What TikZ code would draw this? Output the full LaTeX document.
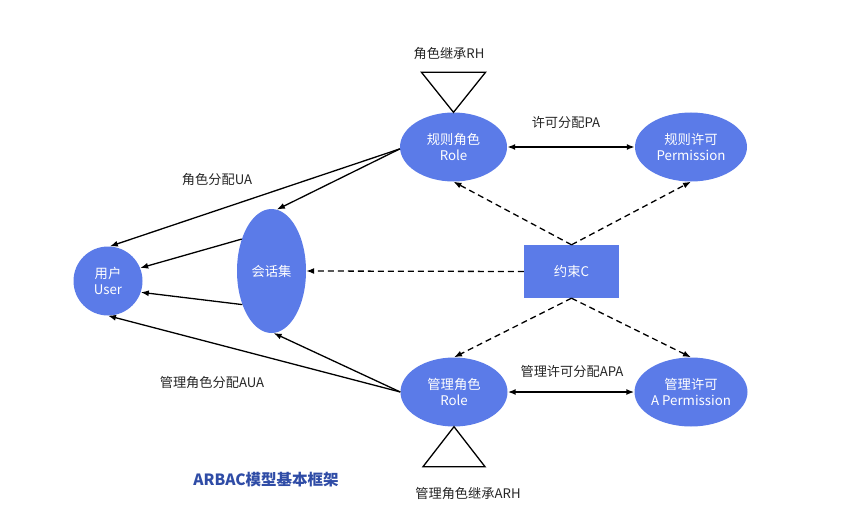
\documentclass[tikz,border=0pt]{standalone}
\usepackage{fontspec}
\setmainfont{Noto Sans CJK SC}
\usepackage{tikz}
\usetikzlibrary{shapes.geometric,arrows.meta}
\definecolor{nodeblue}{HTML}{5B7BE8}
\definecolor{titleblue}{HTML}{2F4CA6}

\begin{document}
\begin{tikzpicture}[x=1pt,y=-1pt,
	>={Latex[length=8pt,width=6pt]},
	entity/.style={ellipse,fill=nodeblue,text=white,inner sep=0pt,align=center,font=\fontsize{13.3}{16}\selectfont},
	rule/.style={rectangle,fill=nodeblue,text=white,minimum width=95pt,minimum height=53pt,font=\fontsize{13.3}{16}\selectfont},
	lbl/.style={text=black!85,font=\fontsize{13.2}{15}\selectfont},
	assign/.style={->,line width=1.3pt},
	limit/.style={->,line width=1.3pt,dash pattern=on 6pt off 4pt},
	grant/.style={<->,line width=1.7pt}]
	\useasboundingbox (0,0) rectangle (867,532);
	\node[entity,minimum width=107pt,minimum height=69pt] (role) at (453.5,147) {规则角色\\Role};
	\node[entity,minimum width=112pt,minimum height=69pt] (perm) at (691,147) {规则许可\\Permission};
	\node[entity,minimum width=69pt,minimum height=69pt] (user) at (108,281) {用户\\User};
	\node[entity,minimum width=69pt,minimum height=124pt] (sess) at (271.5,271) {会话集};
	\node[rule] (cons) at (571.5,271.5) {约束C};
	\node[entity,minimum width=107pt,minimum height=69pt] (arole) at (454,392) {管理角色\\Role};
	\node[entity,minimum width=112pt,minimum height=69pt] (aperm) at (691,392) {管理许可\\A Permission};
	% labels
	\node[lbl] (rh) at (449,54) {角色继承RH};
	\node[lbl] (pa) at (566,123) {许可分配PA};
	\node[lbl] (ua) at (217,180) {角色分配UA};
	\node[lbl] (aua) at (212,383) {管理角色分配AUA};
	\node[lbl] (apa) at (572,371) {管理许可分配APA};
	\node[lbl] (arh) at (468,494) {管理角色继承ARH};
	\node[text=titleblue,font=\fontsize{15.5}{18}\selectfont\bfseries] (title) at (266,480) {ARBAC模型基本框架};
	% inheritance triangles
	\draw[line width=1.3pt] (role.north) -- ++(-32,-40) -- ++(64,0) -- cycle;
	\draw[line width=1.3pt] (arole.south) -- ++(-31,40) -- ++(62,0) -- cycle;
	\path[assign]
		(role.182) edge (user.87)
		(role.182) edge (sess.85)
		(sess.133) edge (user.22)
		(sess.229) edge (user.341)
		(arole.180) edge (user.270)
		(arole.180) edge (sess.272);
	\path[grant]
		(role.east) edge (perm.west)
		(arole.east) edge (aperm.west);
	\path[limit]
		(cons.north) edge (role.south)
		(cons.north) edge (perm.south)
		(cons.west) edge (sess.east)
		(cons.south) edge (arole.north)
		(cons.south) edge (aperm.north);
\end{tikzpicture}
\end{document}
